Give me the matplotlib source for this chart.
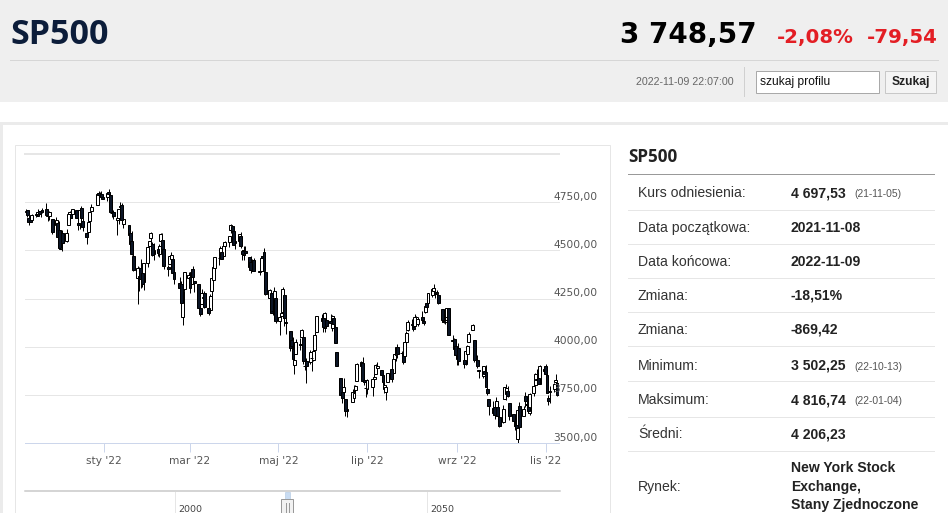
import matplotlib
matplotlib.use("Agg")
import matplotlib.pyplot as plt
import matplotlib.dates as mdates
from matplotlib.patches import Rectangle
from matplotlib.transforms import blended_transform_factory, ScaledTranslation
import numpy as np
import pandas as pd

# trading days 2021-11-08 .. 2022-11-09 (NYSE holidays removed)
holidays = ["2021-11-25", "2021-12-24", "2022-01-17", "2022-02-21", "2022-04-15",
            "2022-05-30", "2022-06-20", "2022-07-04", "2022-09-05"]

opens = [
    # lis 21
    4701, 4707, 4670, 4659, 4655, 4689, 4679, 4702, 4701, 4708, 4712, 4678, 4676, 4665, 4629, 4640,
    # gru 21
    4603, 4505, 4589, 4548, 4632, 4691, 4691, 4688, 4710, 4643, 4636, 4719, 4653, 4588, 4595, 4650,
    4704, 4734, 4795, 4789, 4794, 4775,
    # sty
    4778, 4805, 4788, 4693, 4698, 4655, 4669, 4729, 4734, 4638, 4632, 4588, 4547, 4471, 4356, 4367,
    4408, 4381, 4336, 4432,
    # lut
    4520, 4566, 4535, 4483, 4506, 4480, 4547, 4553, 4506, 4413, 4429, 4456, 4456, 4385, 4333, 4325,
    4156, 4298, 4354,
    # mar
    4363, 4323, 4401, 4342, 4327, 4203, 4223, 4253, 4280, 4203, 4189, 4288, 4345, 4407, 4462, 4469,
    4493, 4470, 4523, 4541, 4603, 4624, 4599,
    # kwi
    4540, 4548, 4572, 4494, 4475, 4494, 4463, 4438, 4394, 4449, 4386, 4391, 4472, 4489, 4386, 4255,
    4278, 4187, 4223, 4254,
    # maj
    4131, 4160, 4181, 4270, 4128, 4081, 4035, 3990, 3904, 3964, 4013, 4052, 4052, 3899, 3928, 3919,
    3943, 3930, 3985, 4077, 4151,
    # cze
    4150, 4095, 4138, 4135, 4096, 4147, 4102, 3974, 3838, 3764, 3764, 3728, 3666, 3715, 3734, 3775,
    3822, 3921, 3913, 3825, 3786,
    # lip
    3781, 3793, 3832, 3859, 3888, 3881, 3852, 3780, 3764, 3818, 3884, 3861, 3935, 3955, 3998, 3966,
    3953, 3951, 4026, 4087,
    # sie
    4112, 4104, 4108, 4155, 4116, 4156, 4133, 4181, 4227, 4225, 4269, 4290, 4280, 4273, 4266, 4195,
    4133, 4127, 4153, 4199, 4035, 4041, 4001,
    # wrz
    3937, 3995, 3931, 3909, 3960, 4023, 4084, 4037, 3941, 3932, 3881, 3850, 3875, 3871, 3782, 3727,
    3683, 3686, 3652, 3687, 3633,
    # paz
    3610, 3726, 3753, 3772, 3707, 3648, 3596, 3591, 3520, 3690, 3639, 3746, 3703, 3689, 3657, 3762,
    3799, 3826, 3835, 3808, 3882,
    # lis 22
    3902, 3853, 3733, 3767, 3781, 3817, 3811,
]
highs = [
    4715, 4709, 4685, 4665, 4688, 4697, 4715, 4702, 4709, 4718, 4744, 4699, 4703, 4665, 4673, 4646,
    4653, 4595, 4608, 4613, 4694, 4705, 4695, 4714, 4710, 4660, 4713, 4732, 4667, 4588, 4651, 4698,
    4741, 4791, 4807, 4804, 4809, 4787,
    4797, 4817, 4798, 4725, 4708, 4673, 4714, 4749, 4744, 4665, 4632, 4612, 4602, 4495, 4417, 4411,
    4453, 4429, 4433, 4517,
    4550, 4595, 4543, 4540, 4522, 4531, 4590, 4589, 4526, 4426, 4473, 4490, 4456, 4395, 4362, 4342,
    4295, 4385, 4389,
    4378, 4401, 4417, 4342, 4327, 4277, 4299, 4268, 4291, 4248, 4271, 4358, 4413, 4465, 4482, 4522,
    4501, 4521, 4546, 4576, 4637, 4628, 4603,
    4549, 4584, 4593, 4504, 4521, 4520, 4464, 4471, 4454, 4460, 4410, 4471, 4488, 4513, 4386, 4299,
    4278, 4241, 4308, 4270,
    4170, 4200, 4308, 4270, 4158, 4081, 4069, 4049, 3965, 4039, 4046, 4091, 4052, 3946, 3943, 3982,
    3956, 3999, 4075, 4158, 4168,
    4167, 4178, 4143, 4169, 4165, 4160, 4119, 3974, 3838, 3778, 3838, 3728, 3708, 3780, 3802, 3803,
    3914, 3928, 3946, 3837, 3819,
    3830, 3832, 3871, 3911, 3919, 3881, 3873, 3829, 3796, 3864, 3902, 3940, 3974, 3999, 4012, 3975,
    3953, 4040, 4079, 4140,
    4145, 4140, 4168, 4161, 4152, 4187, 4137, 4211, 4258, 4280, 4302, 4325, 4302, 4293, 4266, 4195,
    4160, 4157, 4201, 4203, 4063, 4045, 4015,
    3970, 4018, 3943, 3988, 4011, 4077, 4119, 4037, 3962, 3959, 3881, 3900, 3876, 3907, 3791, 3727,
    3716, 3718, 3737, 3687, 3671,
    3698, 3792, 3807, 3798, 3707, 3652, 3641, 3608, 3685, 3712, 3690, 3763, 3729, 3736, 3758, 3811,
    3863, 3886, 3860, 3905, 3894,
    3912, 3894, 3751, 3796, 3814, 3859, 3818,
]
lows = [
    4694, 4671, 4631, 4648, 4651, 4673, 4679, 4684, 4673, 4694, 4682, 4653, 4660, 4585, 4625, 4560,
    4510, 4505, 4495, 4541, 4632, 4675, 4666, 4670, 4668, 4607, 4611, 4652, 4600, 4531, 4583, 4646,
    4704, 4734, 4780, 4778, 4775, 4766,
    4758, 4774, 4699, 4671, 4663, 4582, 4638, 4707, 4650, 4615, 4569, 4530, 4478, 4395, 4223, 4287,
    4305, 4310, 4292, 4414,
    4484, 4544, 4470, 4452, 4471, 4465, 4547, 4484, 4401, 4365, 4429, 4430, 4374, 4327, 4267, 4222,
    4115, 4287, 4315,
    4280, 4323, 4346, 4285, 4200, 4158, 4223, 4210, 4200, 4162, 4188, 4247, 4336, 4391, 4424, 4469,
    4456, 4465, 4501, 4518, 4590, 4581, 4530,
    4508, 4539, 4514, 4450, 4450, 4475, 4408, 4381, 4393, 4391, 4370, 4391, 4449, 4384, 4268, 4201,
    4175, 4163, 4189, 4124,
    4063, 4147, 4149, 4106, 4068, 3975, 3958, 3929, 3859, 3964, 3984, 4034, 3912, 3877, 3810, 3909,
    3875, 3925, 3985, 4077, 4105,
    4074, 4074, 4099, 4109, 4080, 4107, 4017, 3900, 3734, 3706, 3722, 3640, 3637, 3715, 3718, 3744,
    3822, 3890, 3820, 3799, 3739,
    3752, 3742, 3809, 3859, 3869, 3847, 3802, 3759, 3722, 3817, 3819, 3861, 3922, 3928, 3939, 3943,
    3911, 3951, 3993, 4079,
    4096, 4080, 4108, 4135, 4107, 4129, 4112, 4177, 4201, 4220, 4257, 4278, 4253, 4262, 4219, 4130,
    4124, 4120, 4148, 4058, 4017, 3965, 3955,
    3904, 3906, 3887, 3906, 3945, 4023, 4084, 3921, 3912, 3888, 3837, 3839, 3828, 3789, 3750, 3647,
    3645, 3623, 3641, 3610, 3584,
    3605, 3726, 3723, 3739, 3621, 3588, 3568, 3574, 3502, 3580, 3639, 3687, 3667, 3656, 3647, 3742,
    3799, 3824, 3804, 3808, 3863,
    3844, 3759, 3698, 3709, 3765, 3786, 3744,
]
closes = [
    4702, 4685, 4647, 4649, 4683, 4683, 4701, 4689, 4705, 4698, 4683, 4691, 4701, 4595, 4655, 4567,
    4513, 4577, 4538, 4592, 4687, 4701, 4667, 4712, 4669, 4634, 4710, 4669, 4621, 4568, 4649, 4697,
    4726, 4791, 4786, 4793, 4779, 4766,
    4797, 4794, 4701, 4696, 4677, 4670, 4713, 4726, 4659, 4663, 4577, 4533, 4483, 4398, 4410, 4356,
    4350, 4327, 4432, 4516,
    4547, 4589, 4477, 4501, 4484, 4522, 4587, 4504, 4419, 4402, 4471, 4475, 4380, 4349, 4305, 4226,
    4289, 4385, 4374,
    4306, 4387, 4363, 4329, 4201, 4171, 4278, 4260, 4204, 4173, 4262, 4358, 4412, 4463, 4461, 4512,
    4456, 4520, 4543, 4576, 4632, 4602, 4530,
    4546, 4583, 4525, 4481, 4500, 4488, 4413, 4397, 4447, 4393, 4392, 4462, 4459, 4394, 4272, 4296,
    4175, 4184, 4288, 4132,
    4155, 4175, 4300, 4147, 4123, 3991, 4001, 3935, 3930, 4024, 4008, 4089, 3924, 3901, 3901, 3974,
    3941, 3979, 4058, 4158, 4132,
    4101, 4177, 4109, 4121, 4161, 4116, 4018, 3901, 3750, 3735, 3790, 3667, 3675, 3765, 3760, 3796,
    3912, 3900, 3822, 3819, 3785,
    3825, 3831, 3845, 3903, 3899, 3854, 3819, 3802, 3790, 3863, 3831, 3937, 3960, 3999, 3962, 3967,
    3921, 4024, 4072, 4130,
    4119, 4091, 4155, 4152, 4145, 4140, 4122, 4210, 4207, 4280, 4297, 4305, 4274, 4284, 4228, 4138,
    4129, 4141, 4199, 4058, 4031, 3986, 3955,
    3967, 3924, 3908, 3980, 4006, 4067, 4110, 3933, 3946, 3901, 3873, 3900, 3856, 3790, 3758, 3693,
    3655, 3647, 3719, 3640, 3586,
    3678, 3791, 3783, 3745, 3640, 3612, 3589, 3577, 3670, 3583, 3678, 3720, 3695, 3666, 3753, 3797,
    3859, 3831, 3807, 3901, 3872,
    3856, 3760, 3720, 3771, 3807, 3828, 3749,
]

month_ticks = ["2022-01-01", "2022-03-01", "2022-05-01", "2022-07-01", "2022-09-01", "2022-11-01"]
month_labels = ["sty '22", "mar '22", "maj '22", "lip '22", "wrz '22", "lis '22"]
price_ticks = [3500, 3750, 4000, 4250, 4500, 4750, 5000]

row_labels = ["Kurs odniesienia:", "Data początkowa:", "Data końcowa:", "Zmiana:", "Zmiana:",
              "Minimum:", "Maksimum:", "Średni:"]
row_values = ["4 697,53", "2021-11-08", "2022-11-09", "-18,51%", "-869,42",
              "3 502,25", "4 816,74", "4 206,23"]
row_notes = ["(21-11-05)", "", "", "", "", "(22-10-13)", "(22-01-04)", ""]
market_lines = ["New York Stock", "Exchange,", "Stany Zjednoczone"]

DARK = "#0b1526"
ARIAL = "Liberation Sans"
PX = 0.72  # px -> pt at 100 dpi

fig = plt.figure(figsize=(9.48, 5.13), dpi=100)
fig.patch.set_facecolor("white")

# page layer in pixel coordinates
bg = fig.add_axes([0, 0, 1, 1])
bg.set_xlim(0, 948)
bg.set_ylim(513, 0)
bg.axis("off")

bg.add_patch(Rectangle((0, 0), 948, 101.5, facecolor="#efefef", edgecolor="none"))
bg.text(10, 44, "SP500", fontsize=34 * PX, fontweight="bold", family="Open Sans",
        color="#0c1d3a", va="baseline")
bg.plot([10, 938], [59.5, 59.5], color="#d6d6d6", lw=1 * PX)
bg.text(620, 43, "3 748,57", fontsize=20, fontweight="bold", family="DejaVu Sans",
        color="#000000", va="baseline")
bg.text(777, 43, "-2,08%", fontsize=14.2, fontweight="bold", family="DejaVu Sans",
        color="#e31e24", va="baseline")
bg.text(938, 43, "-79,54", fontsize=14.2, fontweight="bold", family="DejaVu Sans",
        color="#e31e24", va="baseline", ha="right")
bg.text(636, 85, "2022-11-09 22:07:00", fontsize=10.6 * PX, family=ARIAL, color="#666666",
        va="baseline")
bg.plot([744.5, 744.5], [67, 96], color="#d0d0d0", lw=1 * PX)
bg.add_patch(Rectangle((756.5, 70.5), 123, 22, facecolor="white", edgecolor="#a9a9a9", lw=1 * PX))
bg.text(760, 85.5, "szukaj profilu", fontsize=12 * PX, family=ARIAL, color="#111111",
        va="baseline")
bg.add_patch(Rectangle((885.5, 70.5), 51, 22, facecolor="#f4f4f4", edgecolor="#c8c8c8", lw=1 * PX))
bg.text(911, 85.5, "Szukaj", fontsize=12 * PX, family=ARIAL, fontweight="bold",
        color="#222222", va="baseline", ha="center")

# card and chart box
bg.add_patch(Rectangle((1.5, 122.5), 950, 400, facecolor="white", edgecolor="#ebebeb", lw=3 * PX))
bg.add_patch(Rectangle((15.5, 144.5), 595, 400, facecolor="white", edgecolor="#e6e6e6", lw=1 * PX))

# navigator strip
bg.plot([25, 560], [491, 491], color="#c8c8c8", lw=1.5 * PX)
for nx, nlab in [(175.5, "2000"), (427.5, "2050")]:
    bg.plot([nx, nx], [492, 513], color="#e6e6e6", lw=1 * PX)
    bg.text(nx + 3, 512, nlab, fontsize=9.5 * PX, family="DejaVu Sans", color="#444444",
            va="baseline")
bg.add_patch(Rectangle((285, 491.5), 5, 7, facecolor="#c9dcf2", edgecolor="#a9c2e0", lw=0.5 * PX))
bg.add_patch(Rectangle((281.5, 498.5), 12, 20, facecolor="#f2f2f2", edgecolor="#999999", lw=1 * PX))
bg.plot([286, 286], [503, 513], color="#999999", lw=1 * PX)
bg.plot([289, 289], [503, 513], color="#999999", lw=1 * PX)

# right info table
bg.text(628, 162, "SP500", fontsize=17 * PX, fontweight="bold", family="Open Sans",
        color="#222222", va="baseline")
bg.plot([628, 934], [173.5, 173.5], color="#999999", lw=1 * PX)
row_base = [197, 232, 265.5, 299.5, 333.5, 369.5, 404.5, 438.5]
row_lines = [209.5, 243.5, 277.5, 311.5, 345.5, 380.5, 416.5, 450.5]
for lab, val, note, yb, yl in zip(row_labels, row_values, row_notes, row_base, row_lines):
    bg.text(638, yb, lab, fontsize=14 * PX, family=ARIAL, color="#333333", va="baseline")
    bg.text(791, yb, val, fontsize=14 * PX, family=ARIAL, fontweight="bold", color="#222222",
            va="baseline")
    if note:
        bg.text(854, yb, note, fontsize=10.3 * PX, family=ARIAL, color="#555555", va="baseline")
    bg.plot([628, 934], [yl, yl], color="#e6e6e6", lw=1 * PX)
bg.text(638, 491.5, "Rynek:", fontsize=14 * PX, family=ARIAL, color="#333333", va="baseline")
for txt, yb in zip(market_lines, [472.5, 491.5, 509]):
    bg.text(791, yb, txt, fontsize=14 * PX, family=ARIAL, fontweight="bold", color="#222222",
            va="baseline")

# candlestick chart
dates = pd.bdate_range("2021-11-08", "2022-11-09")
dates = dates[~dates.isin(pd.to_datetime(holidays))]
n = min(len(dates), len(opens), len(highs), len(lows), len(closes))
x = mdates.date2num(dates[:n].to_pydatetime())
o = np.array(opens[:n], dtype=float)
h = np.array(highs[:n], dtype=float)
lo = np.array(lows[:n], dtype=float)
c = np.array(closes[:n], dtype=float)

ax = fig.add_axes([24.5 / 948, 1 - 443 / 513, (559 - 24.5) / 948, (443 - 154) / 513])
ax.patch.set_alpha(0)
start = mdates.date2num(pd.Timestamp("2021-11-08").to_pydatetime())
ax.set_xlim(start - 1.03, start + 367.3)
ax.set_ylim(3500, 5000)

for v in price_ticks:
    ax.axhline(v, color="#e6e6e6", lw=(2 if v == 5000 else 1) * PX, zorder=0, clip_on=False)

up = c >= o
body_lo = np.minimum(o, c)
body_h = np.abs(c - o)
ax.vlines(x, lo, h, color="#000000", lw=1 * PX, zorder=2)
ax.bar(x[up], body_h[up], bottom=body_lo[up], width=2.0, facecolor="white",
       edgecolor="#000000", lw=1 * PX, zorder=3)
ax.bar(x[~up], body_h[~up], bottom=body_lo[~up], width=2.0, facecolor=DARK,
       edgecolor="#000000", lw=1 * PX, zorder=3)

for s in ["top", "left", "right"]:
    ax.spines[s].set_visible(False)
ax.spines["bottom"].set_color("#ccd6eb")
ax.spines["bottom"].set_linewidth(1 * PX)
ax.set_yticks([])
tick_pos = mdates.date2num(pd.to_datetime(month_ticks).to_pydatetime())
ax.set_xticks(tick_pos)
ax.set_xticklabels(month_labels, fontsize=10.6 * PX, family="DejaVu Sans", color="#555555")
ax.tick_params(axis="x", length=9 * PX, width=1 * PX, color="#ccd6eb", pad=2.9)

ytrans = blended_transform_factory(ax.transAxes, ax.transData) + \
    ScaledTranslation(0, 2.5 / 100, fig.dpi_scale_trans)
for v in price_ticks[:-1]:
    ax.text((553 - 24.5) / 534.5, v, f"{v:.2f}".replace(".", ","), transform=ytrans,
            fontsize=10.6 * PX, family="DejaVu Sans", color="#555555", va="baseline",
            ha="left", clip_on=False)

fig.savefig("out.png", dpi=100)
